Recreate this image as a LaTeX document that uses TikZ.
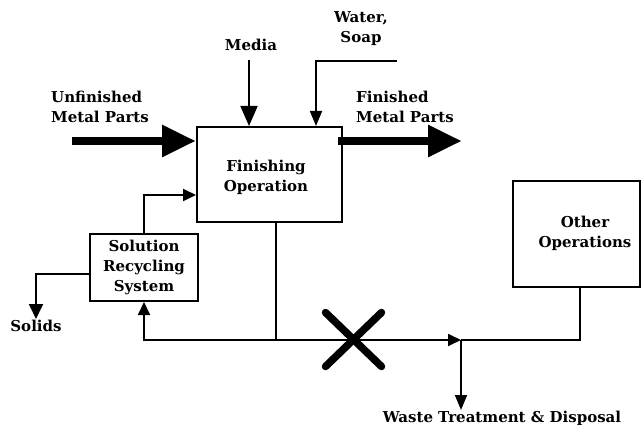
\documentclass[tikz,border=0pt]{standalone}
\usepackage{fontspec}
\setmainfont{DejaVu Serif}
\usetikzlibrary{arrows.meta,calc}
\begin{document}
\begin{tikzpicture}[x=1pt,y=-1pt,
  box/.style={draw, line width=2pt, inner sep=0pt},
  lbl/.style={font=\fontsize{15}{20}\selectfont\bfseries, align=center, inner sep=1pt},
  thin/.style={line width=1.8pt},
  arr/.style={thin, -{Triangle[length=13pt,width=12pt]}},
  bigarr/.style={line width=8.5pt, -{Triangle[length=34pt,width=30pt]}},
  xmark/.style={line width=7.5pt, line cap=round}]
\useasboundingbox (0,0) rectangle (642,425);
% boxes
\node[box, minimum width=145pt, minimum height=95pt] (fin) at (269.5,174.5) {};
\node[lbl] (fintxt) at (266,177) {Finishing\\Operation};
\node[box, minimum width=108pt, minimum height=67pt, lbl, line width=2pt] (rec) at (144,267.5) {Solution\\Recycling\\System};
\node[box, minimum width=127pt, minimum height=106pt] (oth) at (576.5,234) {};
\node[lbl] (othtxt) at (585,233) {Other\\Operations};
% labels
\node[lbl, align=left, anchor=west] (unf) at (50,107) {Unfinished\\Metal Parts};
\node[lbl, align=left, anchor=west] (finp) at (355,107) {Finished\\Metal Parts};
\node[lbl] (media) at (251,45) {Media};
\node[lbl] (water) at (361,29) {Water,\\Soap};
\node[lbl, anchor=north] (solids) at (36,319) {Solids};
\node[lbl, anchor=north] (waste) at (502,410) {Waste Treatment \& Disposal};
% coordinates
\coordinate (ustart) at (72,141);
\coordinate (fend) at (462,141);
\coordinate (mtop) at (249,60);
\coordinate (wstart) at (397,61);
\coordinate (wx) at (316,61);
\coordinate (ry) at (0,195);
\coordinate (sy) at (0,274);
\coordinate (bj) at (276,340);
\coordinate (jn) at (461,340);
\coordinate (ox) at (580,0);
\coordinate (xc) at (353.5,339.5);
% big arrows
\draw[bigarr] (ustart) -- (ustart -| fin.west);
\draw[bigarr] ([xshift=-5pt]fend -| fin.east) -- (fend);
% inputs
\draw[thin, -{Triangle[length=20pt,width=17pt]}] (mtop) -- (mtop |- fin.north);
\draw[thin, -{Triangle[length=15pt,width=12pt]}] (wstart) -- (wx) -- (wx |- fin.north);
% recycle
\draw[arr] (rec.north) |- (fin.west |- ry);
\draw[thin, -{Triangle[length=15pt,width=14pt]}] (rec.west |- sy) -| (solids.north);
\draw[thin] (bj |- fin.south) -- (bj);
\draw[arr] (bj) -| (rec.south);
\draw[arr] (bj) -- (jn);
\draw[thin] (oth.south -| ox) |- (jn);
\draw[thin, -{Triangle[length=15pt,width=12pt]}] (jn) -- (waste.north -| jn);
% X mark
\draw[xmark] ($(xc)+(-28,-27)$) -- ($(xc)+(28,27)$);
\draw[xmark] ($(xc)+(-28,27)$) -- ($(xc)+(28,-27)$);
\end{tikzpicture}
\end{document}
